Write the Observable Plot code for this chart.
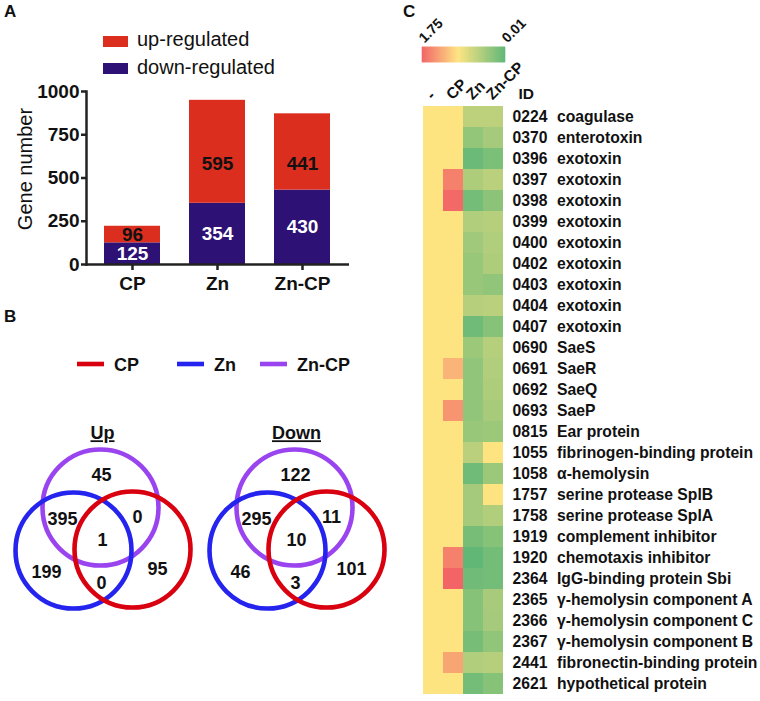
<!DOCTYPE html>
<html><head><meta charset="utf-8">
<script src="https://cdn.jsdelivr.net/npm/d3@7"></script>
<script src="https://cdn.jsdelivr.net/npm/@observablehq/plot@0.6"></script>
<style>
body{margin:0;background:#fff;font-family:"Liberation Sans",Arial,sans-serif;}
#fig{position:relative;width:760px;height:701px;overflow:hidden;background:#fff;}
#fig > *{position:absolute;}
</style></head><body><div id="fig"></div>
<script>
// ---------- data ----------
const groups = ["CP", "Zn", "Zn-CP"];
const upCounts = [96, 595, 441];
const downCounts = [125, 354, 430];
const yTicks = [0, 250, 500, 750, 1000];
const barSeries = ["up-regulated", "down-regulated"];
const barColors = ["#db2e1f", "#2d1175"];

const vennSets = ["CP", "Zn", "Zn-CP"];
const vennColors = ["#d9000f", "#2424ee", "#9a44ef"];
const vennTitles = ["Up", "Down"];
const vennRegions = ["ZnCP", "Zn&ZnCP", "ZnCP&CP", "all", "Zn", "Zn&CP", "CP"];
const vennUp = [45, 395, 0, 1, 199, 0, 95];
const vennDown = [122, 295, 11, 10, 46, 3, 101];

const heatCols = ["-", "CP", "Zn", "Zn-CP"];
const geneIds = ["0224","0370","0396","0397","0398","0399","0400","0402","0403","0404","0407","0690","0691","0692","0693","0815","1055","1058","1757","1758","1919","1920","2364","2365","2366","2367","2441","2621"];
const geneNames = ["coagulase","enterotoxin","exotoxin","exotoxin","exotoxin","exotoxin","exotoxin","exotoxin","exotoxin","exotoxin","exotoxin","SaeS","SaeR","SaeQ","SaeP","Ear protein","fibrinogen-binding protein","α-hemolysin","serine protease SplB","serine protease SplA","complement inhibitor","chemotaxis inhibitor","IgG-binding protein Sbi","γ-hemolysin component A","γ-hemolysin component C","γ-hemolysin component B","fibronectin-binding protein","hypothetical protein"];
const valCtrl = [1,1,1,1,1,1,1,1,1,1,1,1,1,1,1,1,1,1,1,1,1,1,1,1,1,1,1,1];
const valCP = [1,1,1,1.58,1.72,1,1,1,1,1,1,1,1.28,1,1.46,1,1,1,1,1,1,1.58,1.75,1,1,1,1.37,1];
const valZn = [0.6,0.35,0.1,0.5,0.15,0.52,0.42,0.37,0.37,0.55,0.12,0.4,0.33,0.33,0.33,0.37,0.58,0.12,0.45,0.45,0.17,0.03,0.12,0.27,0.27,0.17,0.52,0.15];
const valZnCP = [0.6,0.45,0.2,0.58,0.3,0.55,0.52,0.5,0.33,0.58,0.27,0.55,0.52,0.5,0.47,0.4,1.0,0.4,1.0,0.52,0.27,0.15,0.15,0.47,0.45,0.33,0.55,0.27];
const colorDomain = [0.01, 1, 1.75];
const colorRange = ["#5db676", "#fee481", "#f26466"];

// ---------- helpers ----------
const FONT = "'Liberation Sans', Arial, sans-serif";
const fig = document.getElementById("fig");
function place(node, left, top) { node.style.left = left + "px"; node.style.top = top + "px"; fig.appendChild(node); return node; }
const baseStyle = {background: "transparent", fontFamily: FONT, color: "#111", overflow: "visible"};

// ---------- Panel A ----------
const barData = [];
groups.forEach((g, i) => {
  barData.push({g, s: barSeries[1], y1: 0, y2: downCounts[i], n: downCounts[i]});
  barData.push({g, s: barSeries[0], y1: downCounts[i], y2: downCounts[i] + upCounts[i], n: upCounts[i]});
});
const plotA = Plot.plot({
  width: 355, height: 296, marginLeft: 86, marginRight: 6, marginTop: 91, marginBottom: 32,
  style: baseStyle,
  x: {domain: groups, paddingInner: 0.337, paddingOuter: 0.198, axis: null, label: null},
  y: {domain: [0, 1000], axis: null, label: null},
  color: {domain: barSeries, range: barColors},
  marks: [
    Plot.rectY(barData, {x: "g", y1: "y1", y2: "y2", fill: "s"}),
    Plot.text(barData, {x: "g", y: d => d.s === barSeries[1] ? d.n / 2 : Math.min((d.y1 + d.y2) / 2, 580),
      text: "n", fill: d => d.s === barSeries[1] ? "#fff" : "#111", fontSize: 19, fontWeight: "bold"}),
    Plot.axisY({ticks: yTicks, tickFormat: d3.format("d"), label: null, tickSize: 5, tickPadding: 2, fontSize: 19, fontWeight: "bold", strokeWidth: 2.5, stroke: "#222", fill: "#111"}),
    Plot.axisX({label: null, tickSize: 6, tickPadding: 6, fontSize: 19, fontWeight: "bold", strokeWidth: 2.5, stroke: "#222", fill: "#111"}),
    Plot.ruleY([0], {strokeWidth: 2.5, stroke: "#222"}),
    Plot.frame({anchor: "left", strokeWidth: 2.5, stroke: "#222"}),
    Plot.text(["Gene number"], {frameAnchor: "left", textAnchor: "middle", rotate: -90, dx: -61, dy: -9, fontSize: 20, fill: "#111"})
  ]
});
place(plotA, 0, 0);

// ---------- Panel B (Venn) ----------
const vennBase = [102, 296];
const circleOffsets = {"Zn-CP": [-2, 507], "Zn": [-29, 550], "CP": [30, 549]};
const regionOffsets = {"ZnCP": [-1, 475], "Zn&ZnCP": [-40, 519], "ZnCP&CP": [35, 517], "all": [0, 540], "Zn": [-56, 572], "Zn&CP": [-1, 583], "CP": [55, 569]};
const circles = [], vlabels = [], vtitles = [];
[vennUp, vennDown].forEach((counts, k) => {
  ["Zn-CP", "Zn", "CP"].forEach(s => circles.push({set: s, x: vennBase[k] + circleOffsets[s][0], y: circleOffsets[s][1]}));
  vennRegions.forEach((r, i) => vlabels.push({x: vennBase[k] + regionOffsets[r][0], y: regionOffsets[r][1], n: counts[i]}));
  vtitles.push({x: vennBase[k], y: 433, t: vennTitles[k]});
});
const plotB = Plot.plot({
  width: 400, height: 330, margin: 0,
  style: baseStyle,
  x: {domain: [0, 400], range: [0, 400], axis: null},
  y: {domain: [290, 620], range: [0, 330], axis: null},
  color: {domain: vennSets, range: vennColors},
  marks: [
    Plot.dot(circles, {x: "x", y: "y", r: 58, stroke: "set", strokeWidth: 4.6, fill: "none"}),
    Plot.text(vlabels, {x: "x", y: "y", text: "n", fontSize: 18, fontWeight: "bold", fill: "#111"}),
    Plot.text(vtitles, {x: "x", y: "y", text: "t", fontSize: 18, fontWeight: "bold", fill: "#111"})
  ]
});
d3.select(plotB).selectAll("text").filter(function () { return vennTitles.includes(this.textContent); })
  .style("text-decoration", "underline");
place(plotB, 0, 290);

// ---------- Panel C (heatmap) ----------
const cells = [];
const valCols = [valCtrl, valCP, valZn, valZnCP];
geneIds.forEach((id, i) => valCols.forEach((arr, j) => cells.push({id, col: heatCols[j], v: arr[i]})));
const rows = geneIds.map((id, i) => ({id, name: geneNames[i]}));
const colorOpts = {type: "linear", domain: colorDomain, range: colorRange, interpolate: "rgb"};
const plotC = Plot.plot({
  width: 360, height: 701, marginLeft: 21, marginRight: 256, marginTop: 101, marginBottom: 2,
  style: baseStyle,
  x: {domain: heatCols, padding: 0, axis: null},
  y: {domain: geneIds, padding: 0, axis: null},
  color: colorOpts,
  marks: [
    Plot.cell(cells, {x: "col", y: "id", fill: "v", inset: 0}),
    Plot.text(rows, {y: "id", text: "id", frameAnchor: "right", textAnchor: "start", dx: 8, fontSize: 15.7, fontWeight: "bold", fill: "#111"}),
    Plot.text(rows, {y: "id", text: "name", frameAnchor: "right", textAnchor: "start", dx: 52.5, fontSize: 15.7, fontWeight: "bold", fill: "#111"}),
    Plot.text(heatCols, {x: d => d, text: d => d, frameAnchor: "top", rotate: -45, textAnchor: "start", lineAnchor: "bottom", dy: -1, dx: -1, fontSize: 15.5, fontWeight: "bold", fill: "#111"}),
    Plot.text(["ID"], {frameAnchor: "top-right", textAnchor: "start", lineAnchor: "bottom", dx: 14, dy: -3, text: d => d, fontSize: 15.5, fontWeight: "bold", fill: "#111"})
  ]
});
place(plotC, 400, 0);

// colour legend bar (ramp through the same colour scale)
const rampN = 120;
const rampStep = (colorDomain[2] - colorDomain[0]) / rampN;
const ramp = d3.range(rampN).map(i => ({x1: colorDomain[0] + i * rampStep, x2: colorDomain[0] + (i + 1) * rampStep, v: colorDomain[0] + (i + 0.5) * rampStep}));
const plotLeg = Plot.plot({
  width: 130, height: 70, marginLeft: 22, marginRight: 25, marginTop: 47, marginBottom: 8,
  style: baseStyle,
  x: {domain: [colorDomain[2], colorDomain[0]], axis: null},
  color: colorOpts,
  marks: [
    Plot.barX(ramp, {x1: "x1", x2: "x2", fill: "v", stroke: "v", strokeWidth: 0.6}),
    Plot.text([colorDomain[2], colorDomain[0]], {x: d => d, text: d => d.toFixed(2), frameAnchor: "top", rotate: -45, textAnchor: "start", lineAnchor: "bottom", dx: 2, dy: -4, fontSize: 14, fontWeight: "bold", fill: "#111"})
  ]
});
place(plotLeg, 400, 0);

// ---------- overlay: panel letters and legends ----------
const ov = d3.create("svg").attr("width", 760).attr("height", 701)
  .style("font-family", FONT).style("pointer-events", "none");
[["A", 4, 17], ["B", 4, 322], ["C", 403, 17]].forEach(([t, x, y]) =>
  ov.append("text").attr("x", x).attr("y", y).attr("font-size", 17).attr("font-weight", "bold").attr("fill", "#111").text(t));
// Panel A legend
barSeries.forEach((s, i) => {
  ov.append("rect").attr("x", 103).attr("y", 36 + i * 27).attr("width", 25).attr("height", 11).attr("fill", barColors[i]);
  ov.append("text").attr("x", 137).attr("y", 46 + i * 27.5).attr("font-size", 20).attr("fill", "#111").text(s);
});
// Panel B legend
const legX = [77, 177, 260];
vennSets.forEach((s, i) => {
  ov.append("line").attr("x1", legX[i]).attr("x2", legX[i] + 27).attr("y1", 364).attr("y2", 364)
    .attr("stroke", vennColors[i]).attr("stroke-width", 4.6);
  ov.append("text").attr("x", legX[i] + 37).attr("y", 371).attr("font-size", 18).attr("font-weight", "bold").attr("fill", "#111").text(s);
});
place(ov.node(), 0, 0);
</script>
</body></html>
